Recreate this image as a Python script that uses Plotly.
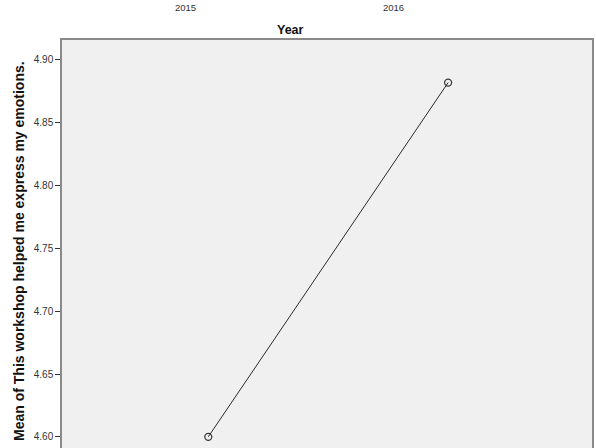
import plotly.graph_objects as go

years = ["2015", "2016"]
means = [4.600, 4.882]
y_ticks = [4.60, 4.65, 4.70, 4.75, 4.80, 4.85, 4.90]
y_tick_labels = ["4.60", "4.65", "4.70", "4.75", "4.80", "4.85", "4.90"]
prev_x_labels = ["2015", "2016"]

L, T, W, H = 62, 40, 530, 408

fig = go.Figure()
fig.add_trace(go.Scatter(
    x=years, y=means, mode="lines+markers",
    line=dict(color="#2b2b2b", width=1),
    marker=dict(symbol="circle-open", size=7, color="#3a3a3a", line=dict(width=1.3)),
    showlegend=False, hoverinfo="skip",
))

fig.update_layout(
    width=596, height=448,
    margin=dict(l=L, r=596 - L - W, t=T, b=0, autoexpand=False),
    paper_bgcolor="white", plot_bgcolor="#F0F0F0",
    font=dict(family="Liberation Sans, Arial, sans-serif", color="#333333"),
)
fig.update_xaxes(
    type="category", range=[-0.61, 1.60], side="top", automargin=False,
    showline=True, linecolor="#8a8a8a", linewidth=1.5, mirror=False,
    showticklabels=False, ticks="", showgrid=False, zeroline=False,
)
fig.update_yaxes(
    range=[4.5911, 4.9159], tickvals=y_ticks, ticktext=y_tick_labels,
    automargin=False,
    ticks="outside", ticklen=5, tickcolor="#333333", tickwidth=1,
    tickfont=dict(size=10, color="#333333"),
    showline=True, linecolor="#8a8a8a", linewidth=1.5, mirror=True,
    showgrid=False, zeroline=False,
)

fig.add_annotation(text="<b>Mean of This workshop helped me express my emotions.</b>",
                   xref="paper", yref="paper", x=(19 - L) / W, y=1 - (251 - T) / H,
                   textangle=-90, showarrow=False, xanchor="center", yanchor="middle",
                   font=dict(size=14, color="#111111"))

# Labels from the chart above (x-axis of previous chart)
for lab, px in zip(prev_x_labels, [185, 393]):
    fig.add_annotation(text=lab, xref="paper", yref="paper",
                       x=(px - L) / W, y=1 + 33 / H, showarrow=False,
                       font=dict(size=9.5, color="#333333"), xanchor="center", yanchor="middle")
fig.add_annotation(text="<b>Year</b>", xref="paper", yref="paper",
                   x=(290 - L) / W, y=1 + 10 / H, showarrow=False,
                   font=dict(size=12.5, color="#111111"), xanchor="center", yanchor="middle")

fig.write_html("out.html", config={"displayModeBar": False},
               post_script="document.body.style.margin='0';document.body.style.padding='0';")
